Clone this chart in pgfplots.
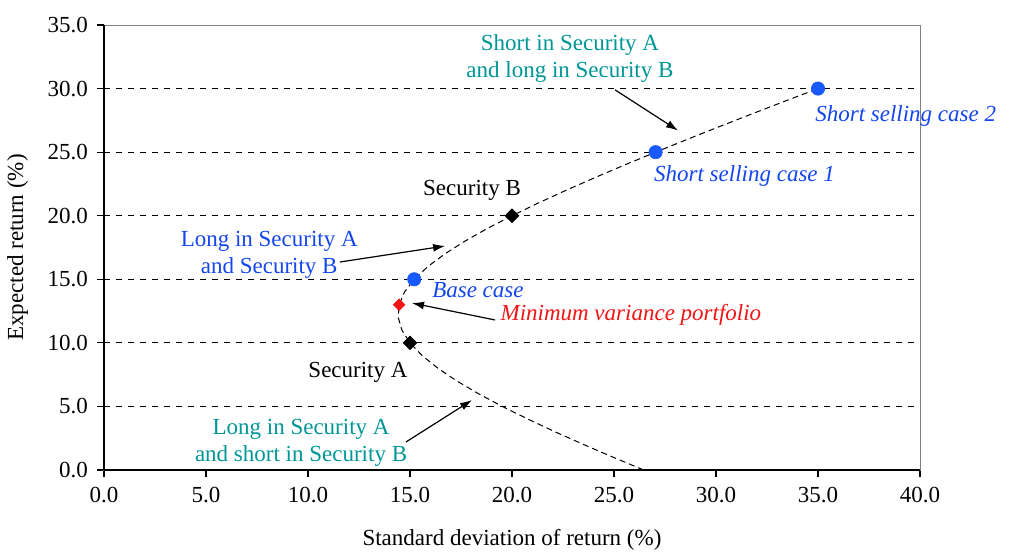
\documentclass[border=0pt]{standalone}
\usepackage{pgfplots}
\pgfplotsset{compat=1.18}
\usepackage{fontspec}
\setmainfont{Liberation Serif}
\usetikzlibrary{arrows.meta}
\definecolor{teal1}{RGB}{0,150,150}
\definecolor{blue1}{RGB}{20,70,240}
\definecolor{bluept}{RGB}{25,90,255}
\definecolor{red1}{RGB}{240,20,20}
\newcommand{\fs}{\fontsize{11.5}{13.5}\selectfont}
\begin{document}
\begin{tikzpicture}
\begin{axis}[
  scale only axis, width=408pt, height=222.5pt,
  xmin=0, xmax=40, ymin=0, ymax=35,
  xtick={0,5,...,40}, ytick={0,5,...,35},
  /pgf/number format/assume math mode=true,
  xticklabel style={yshift=-1.5pt, font=\fs, /pgf/number format/.cd,fixed,fixed zerofill,precision=1},
  yticklabel style={xshift=-1pt, font=\fs, /pgf/number format/.cd,fixed,fixed zerofill,precision=1},
  label style={font=\fs},
  xlabel={Standard deviation of return (\%)},
  ylabel={Expected return (\%)},
  xlabel style={yshift=-6.5pt},
  ylabel style={yshift=3pt},
  axis line style={gray, line width=0.5pt},
  tick align=outside, major tick length=3.5pt,
  tick style={black, line width=0.6pt},
  xtick pos=bottom, ytick pos=left,
  ymajorgrids, grid style={black, dashed, line width=0.5pt},
  clip=false,
]
\addplot[black, densely dashed, line width=0.5pt, no marks] coordinates {
(26.458,0)(24.965,1)(23.516,2)(22.119,3)(20.785,4)(19.526,5)(18.358,6)(17.299,7)
(16.371,8)(15.596,9)(15.000,10)(14.603,11)(14.422,12)(14.465,13)(14.731,14)(15.207,15)
(15.875,16)(16.711,17)(17.692,18)(18.795,19)(20.000,20)(21.290,21)(22.650,22)(24.068,23)
(25.534,24)(27.042,25)(28.583,26)(30.154,27)(31.749,28)(33.365,29)(35.000,30)};
\addplot[only marks, mark=square*, mark size=2.4pt, black, mark options={rotate=45}] coordinates {(15,10)(20,20)};
\addplot[only marks, mark=square*, mark size=2.0pt, red1, mark options={rotate=45, fill=red1}] coordinates {(14.465,13)};
\addplot[only marks, mark=*, mark size=3.3pt, bluept, mark options={fill=bluept, draw=bluept}] coordinates {(15.207,15)(27.042,25)(35,30)};
\draw[black, line width=1.4pt] (rel axis cs:0,0) -- (rel axis cs:0,1);
\draw[black, line width=0.7pt] (rel axis cs:0,0) -- (rel axis cs:1,0);
\begin{scope}[font=\fs]
\node[teal1, align=center] at (axis cs:22.84,32.4) {Short in Security A\\and long in Security B};
\draw[-{Latex[length=6pt,width=4pt]}, line width=0.6pt] (axis cs:25.05,29.9) -- (axis cs:28.14,26.7);
\node[blue1, font=\fs\itshape] at (axis cs:39.3,27.85) {Short selling case 2};
\node[blue1, font=\fs\itshape] at (axis cs:31.4,23.1) {Short selling case 1};
\node[black] at (axis cs:18.04,22.0) {Security B};
\node[blue1, align=center] at (axis cs:8.1,16.9) {Long in Security A\\and Security B};
\draw[-{Latex[length=6pt,width=4pt]}, line width=0.6pt] (axis cs:11.57,16.36) -- (axis cs:16.72,17.62);
\node[blue1, font=\fs\itshape] at (axis cs:18.33,14.16) {Base case};
\node[red1, font=\fs\itshape] at (axis cs:25.83,12.19) {Minimum variance portfolio};
\draw[-{Latex[length=6pt,width=4pt]}, line width=0.6pt] (axis cs:19.17,11.8) -- (axis cs:15.1,13.13);
\node[black] at (axis cs:12.45,7.71) {Security A};
\node[teal1, align=center] at (axis cs:9.66,2.12) {Long in Security A\\and short in Security B};
\draw[-{Latex[length=6pt,width=4pt]}, line width=0.6pt] (axis cs:14.8,2.2) -- (axis cs:18.04,5.5);
\end{scope}
\end{axis}
\path ([shift={(-52pt,-41.5pt)}]current axis.south west) rectangle ([shift={(48.5pt,12.5pt)}]current axis.north east);
\end{tikzpicture}
\end{document}
